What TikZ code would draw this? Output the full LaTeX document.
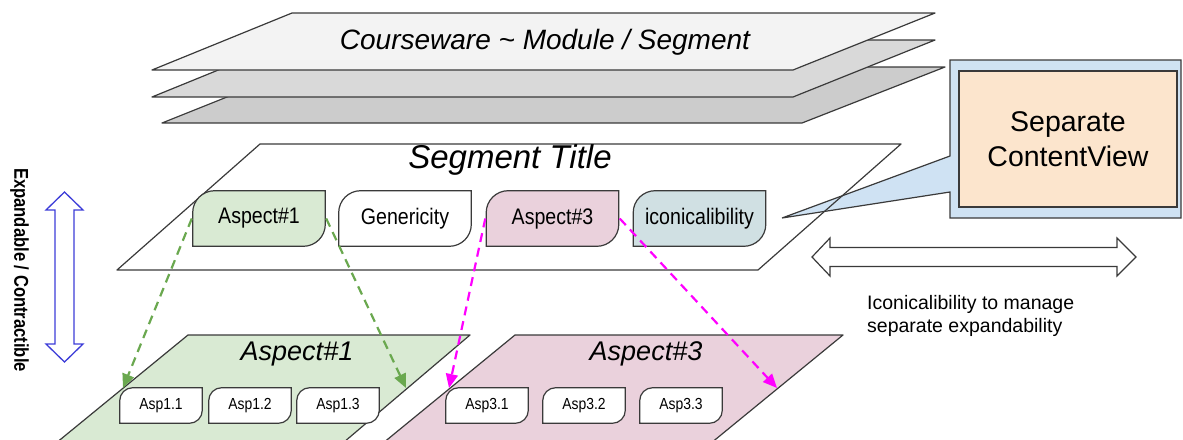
\documentclass[tikz,border=0pt]{standalone}
\usepackage{fontspec}
\setmainfont{Liberation Sans}
\usetikzlibrary{arrows.meta,calc}

\definecolor{edgegray}{HTML}{3A3A3A}
\definecolor{sheetA}{HTML}{F3F3F3}
\definecolor{sheetB}{HTML}{D9D9D9}
\definecolor{sheetC}{HTML}{CCCCCC}
\definecolor{greenpane}{HTML}{D9EAD3}
\definecolor{pinkpane}{HTML}{EAD1DC}
\definecolor{tealpane}{HTML}{D0E0E3}
\definecolor{calloutblue}{HTML}{CFE2F3}
\definecolor{calloutorange}{HTML}{FCE5CD}
\definecolor{greenlink}{HTML}{6AA84F}
\definecolor{pinklink}{HTML}{FF00FF}
\definecolor{updown}{HTML}{3C3CD8}

\newcommand\rdfill{white}
\newcommand\rdrad{16}
% narrow lettering used inside the aspect cards
\newcommand\narrow[1]{\scalebox{0.87}[1]{#1}}

\begin{document}
\begin{tikzpicture}[x=1pt,y=-1pt,
  plane/.style={draw=edgegray, line width=1.2pt, line join=round},
  rdcolor/.code={\def\rdfill{#1}},
  rdradius/.code={\def\rdrad{#1}},
  rdbox/.style={inner sep=0pt, align=center,
    path picture={
      \path[draw=edgegray, line width=1.2pt, fill=\rdfill]
        ($(path picture bounding box.south west)+(0.7,-0.7)$)
        -- ($(path picture bounding box.north west)+(0.7,{0.7+\rdrad})$)
        arc[start angle=180, end angle=270, radius=\rdrad]
        -- ($(path picture bounding box.north east)+(-0.7,0.7)$)
        -- ($(path picture bounding box.south east)+(-0.7,{-0.7-\rdrad})$)
        arc[start angle=0, end angle=90, radius=\rdrad]
        -- cycle;}},
  aspect/.style={rdbox, minimum width=134pt, minimum height=57pt,
    rdradius=22, font=\fontsize{22.5}{26}\selectfont},
  subaspect/.style={rdbox, rdcolor=white, minimum width=84pt,
    minimum height=37pt, rdradius=13, font=\fontsize{16}{18}\selectfont},
  planetitle/.style={font=\itshape\fontsize{#1}{#1}\selectfont, inner sep=0pt},
  link/.style={line width=2.2pt, dash pattern=on 9pt off 6pt,
    -{Triangle[length=14pt,width=12pt]}},
]
\useasboundingbox (0,0) rectangle (1183,439);

% stacked courseware sheets
\path[plane, fill=sheetC] (302,67) -- (945,67) -- (802,123) -- (162,123) -- cycle;
\path[plane, fill=sheetB] (292,40) -- (935,40) -- (793,97) -- (152,97) -- cycle;
\path[plane, fill=sheetA] (292,13) -- (935,13) -- (793,70) -- (152,70) -- cycle;
\node[planetitle=28] (course) at (545,42) {Courseware \textasciitilde{} Module / Segment};

% callout with the separate content view
\path[draw=edgegray, line width=1.2pt, fill=calloutblue, line join=miter]
  (950,60) -- (1181,60) -- (1181,218) -- (950,218) -- (950,192)
  -- (782,218) -- (950,156) -- cycle;
\node[draw=edgegray, line width=1.2pt, fill=calloutorange, minimum width=218pt,
  minimum height=136pt, align=center, font=\fontsize{28.5}{35}\selectfont]
  (cview) at (1068,139) {Separate\\ContentView};

% segment sheet
\path[plane] (260,144) -- (901,144) -- (758,270) -- (117,270) -- cycle;
\node[planetitle=33] (segtitle) at (510,160) {Segment Title};

\node[aspect, rdcolor=greenpane] (asp1) at (259,218.5) {\narrow{Aspect\#1}};
\node[aspect, rdcolor=white] (gen) at (405,218.5) {\narrow{Genericity}};
\node[aspect, rdcolor=pinkpane] (asp3) at (552.5,218.5) {\narrow{Aspect\#3}};
\node[aspect, rdcolor=tealpane] (icon) at (699.5,218.5) {\narrow{iconicalibility}};

% expanded aspect sheets
\path[plane, fill=greenpane] (188,335) -- (470,335) -- (337,448) -- (50,448) -- cycle;
\path[plane, fill=pinkpane] (515,335) -- (843,335) -- (705,448) -- (377,448) -- cycle;
\node[planetitle=27] (g1title) at (297,354) {Aspect\#1};
\node[planetitle=27] (p3title) at (646,354) {Aspect\#3};

\node[subaspect] (a11) at (161,405.5) {\narrow{Asp1.1}};
\node[subaspect] (a12) at (250,405.5) {\narrow{Asp1.2}};
\node[subaspect] (a13) at (338,405.5) {\narrow{Asp1.3}};
\node[subaspect] (a31) at (487,405.5) {\narrow{Asp3.1}};
\node[subaspect] (a32) at (584,405.5) {\narrow{Asp3.2}};
\node[subaspect] (a33) at (681,405.5) {\narrow{Asp3.3}};

% where the links land on the aspect sheets
\coordinate (g1left) at (123,388);
\coordinate (g1right) at (406,388);
\coordinate (p3left) at (449,388);
\coordinate (p3right) at (777,388);

\draw[link, greenlink] (asp1.west) -- (g1left);
\draw[link, greenlink] (asp1.east) -- (g1right);
\draw[link, pinklink] (asp3.west) -- (p3left);
\draw[link, pinklink] (asp3.east) -- (p3right);

% horizontal double arrow and its note
\path[draw=edgegray, line width=1.2pt, fill=white, line join=miter]
  (812,257) -- (830,238) -- (830,247.5) -- (1117,247.5) -- (1117,238)
  -- (1136,257) -- (1117,276) -- (1117,266.5) -- (830,266.5) -- (830,276) -- cycle;
\node[anchor=west, align=left, inner sep=0pt, font=\fontsize{19.5}{23}\selectfont]
  (note) at (867,316) {Iconicalibility to manage\\separate expandability};

% vertical double arrow and its label
\path[draw=updown, line width=1.3pt, fill=white, line join=miter]
  (64.5,192) -- (83,210) -- (74,210) -- (74,344) -- (83,344) -- (64.5,362)
  -- (46,344) -- (55,344) -- (55,210) -- (46,210) -- cycle;
\node[rotate=-90, inner sep=0pt, font=\bfseries\fontsize{20}{20}\selectfont]
  (expand) at (19.5,270) {\scalebox{0.83}[1]{Expandable / Contractible}};
\end{tikzpicture}
\end{document}
